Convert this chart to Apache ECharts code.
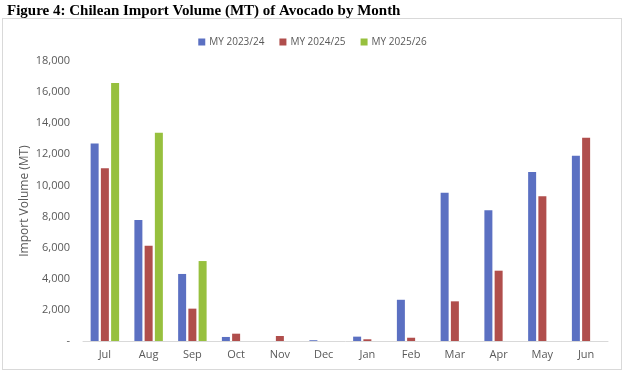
<!DOCTYPE html>
<html><head><meta charset="utf-8">
<script src="https://cdn.jsdelivr.net/npm/echarts@6/dist/echarts.min.js"></script>
<style>html,body{margin:0;padding:0;background:#fff}#box{position:absolute;left:2px;top:18px;width:620px;height:352px;border:1px solid #d9d9d9;box-sizing:border-box}#c{width:625px;height:372px}</style>
</head><body>
<div id="box"></div>
<div id="c" style="position:absolute;left:0;top:0"></div>
<script>
const categories = ['Jul','Aug','Sep','Oct','Nov','Dec','Jan','Feb','Mar','Apr','May','Jun'];
const seriesNames = ['MY 2023/24','MY 2024/25','MY 2025/26'];
const my2324 = [12700, 7780, 4310, 260, 0, 50, 280, 2650, 9530, 8400, 10860, 11910];
const my2425 = [11100, 6130, 2080, 470, 320, 0, 110, 210, 2550, 4520, 9300, 13070];
const my2526 = [16580, 13390, 5140, null, null, null, null, null, null, null, null, null];
const yTicks = [0, 2000, 4000, 6000, 8000, 10000, 12000, 14000, 16000, 18000];
const colors = ['#5B70C2', '#B04E4C', '#97C03E'];

const chart = echarts.init(document.getElementById('c'));
chart.setOption({
  animation: false,
  title: {
    text: 'Figure 4: Chilean Import Volume (MT) of Avocado by Month',
    left: 2, top: -1,
    textStyle: {fontFamily: 'Liberation Serif', fontWeight: 'bold', fontSize: 15, color: '#000'}
  },
  legend: {
    data: seriesNames, top: 32, left: 'center', itemWidth: 7, itemHeight: 7, itemGap: 15,
    icon: 'rect',
    textStyle: {fontFamily: 'Open Sans', fontSize: 10, color: '#595959', padding: [0, 0, 0, -1]}
  },
  grid: {left: 83, right: 17, top: 61, bottom: 31},
  xAxis: {
    type: 'category', data: categories,
    axisLine: {lineStyle: {color: '#d9d9d9'}},
    axisTick: {show: false},
    axisLabel: {fontFamily: 'Open Sans', fontSize: 11, color: '#595959', margin: 8}
  },
  yAxis: {
    type: 'value', min: yTicks[0], max: yTicks[yTicks.length-1], interval: 2000,
    name: 'Import Volume (MT)', nameLocation: 'middle', nameGap: 52, nameRotate: 90,
    nameMoveOverlap: false,
    nameTextStyle: {fontFamily: 'Open Sans', fontSize: 12, color: '#595959'},
    splitLine: {show: false},
    axisLine: {show: false}, axisTick: {show: false},
    axisLabel: {fontFamily: 'Open Sans', fontSize: 11, color: '#595959', margin: 13,
      formatter: v => v === 0 ? '-' : v.toLocaleString('en-US')}
  },
  series: [my2324, my2425, my2526].map((d, i) => ({
    name: seriesNames[i], type: 'bar', data: d, barWidth: 8, barGap: '28%',
    itemStyle: {color: colors[i]}
  }))
});
</script>
</body></html>
